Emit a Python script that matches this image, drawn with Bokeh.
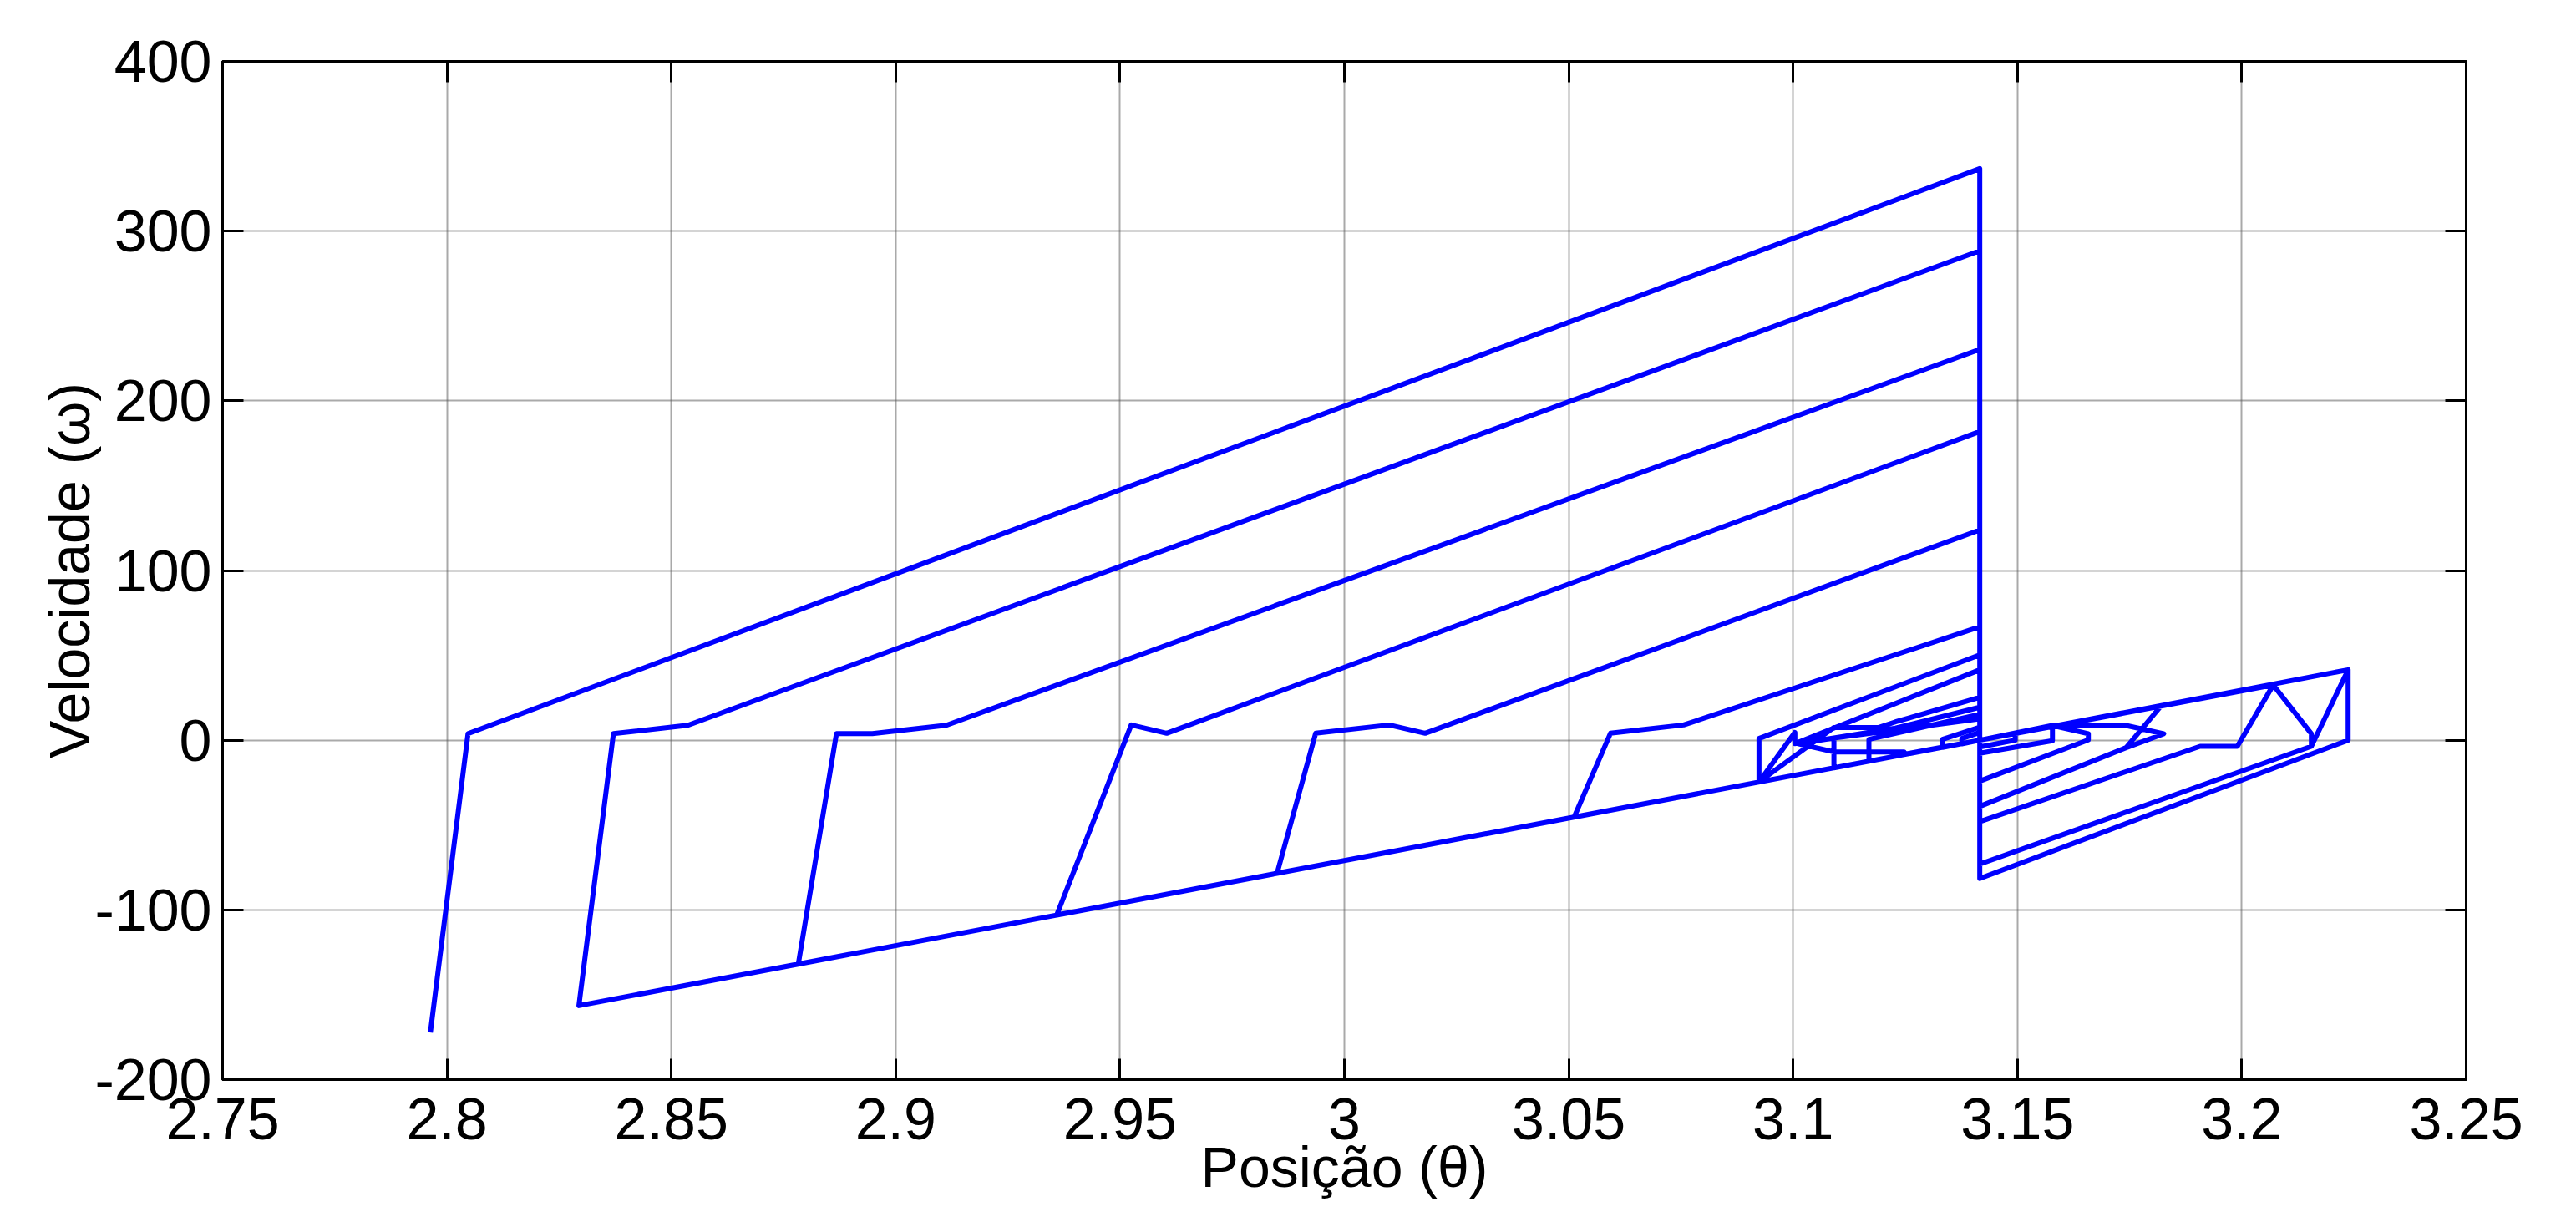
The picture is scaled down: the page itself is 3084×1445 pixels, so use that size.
from bokeh.plotting import figure
from bokeh.models import Range1d, FixedTicker, LinearAxis
from bokeh.embed import file_html
from bokeh.resources import INLINE

# ---- data: phase-plane trajectory (position theta, velocity omega) ----
# large bouncing cycles on the left of the impact position (pi)
theta_left = [2.7963, 2.8047, 3.1416,
              3.1416, 2.8294, 2.8371, 2.8537, 3.1416,
              3.1416, 2.8783, 2.8868, 2.8948, 2.9113, 3.1416,
              3.1416, 2.9359, 2.9525, 2.9604, 3.1416,
              3.1416, 2.9850, 2.9936, 3.0100, 3.0180, 3.1416,
              3.1416, 3.0512, 3.0593, 3.0756, 3.1416]
omega_left = [-172.3, 3.9, 336.8,
              0.0, -156.4, 3.9, 8.8, 288.4,
              0.0, -131.9, 3.9, 3.9, 8.8, 230.3,
              0.0, -103.0, 9.0, 4.1, 181.9,
              0.0, -78.4, 4.1, 9.0, 4.1, 123.9,
              0.0, -45.3, 4.1, 9.0, 66.8]

# small cycles close to pi (left side)
theta_small = [3.1416, 3.0924, 3.0924, 3.1416,
               3.1416, 3.0924, 3.1004, 3.1004, 3.1416,
               3.1416, 3.0924, 3.1091, 3.1191, 3.1228, 3.1416,
               3.1416, 3.1091, 3.1091, 3.1228, 3.1416,
               3.1416, 3.1169, 3.1169, 3.1416,
               3.1416, 3.1247, 3.1247, 3.1091, 3.1011, 3.1091, 3.1416,
               3.1416, 3.1333, 3.1333, 3.1416,
               3.1416, 3.1376, 3.1376, 3.1416]
omega_small = [0.0, -24.6, 1.0, 50.3,
               0.0, -24.6, 4.6, -2.0, 41.5,
               0.0, -24.6, 7.5, 7.5, 10.8, 25.2,
               0.0, -16.3, 1.3, 7.1, 19.4,
               0.0, -12.4, 0.5, 15.3,
               0.0, -8.3, -6.9, -6.9, -2.0, 1.3, 12.6,
               0.0, -4.2, 0.5, 7.7,
               0.0, -2.1, 1.0, 4.6]

# cycles on the right of pi
theta_right = [3.1416, 3.2237, 3.2237, 3.1416,
               3.1416, 3.2237, 3.2155, 3.1416,
               3.1416, 3.2070, 3.2155, 3.2155, 3.1416,
               3.1416, 3.2070, 3.1990, 3.1907, 3.1416,
               3.1416, 3.1820, 3.1742, 3.1416,
               3.1416, 3.1578, 3.1742, 3.1826, 3.1742, 3.1416,
               3.1416, 3.1578, 3.1658, 3.1658, 3.1416,
               3.1416, 3.1578, 3.1578, 3.1416,
               3.1416, 3.1495, 3.1495, 3.1416, 3.1416]
omega_right = [0.0, 41.5, 0.0, -81.5,
               0.0, 41.5, -3.6, -73.0,
               0.0, 32.5, 3.8, -3.6, -73.0,
               0.0, 32.5, -3.6, -3.6, -48.0,
               0.0, 20.2, -4.4, -39.0,
               0.0, 8.7, 8.7, 3.8, -4.4, -39.0,
               0.0, 8.7, 3.8, 0.2, -24.1,
               0.0, 8.7, -0.3, -7.7,
               0.0, 4.0, 0.0, -4.0, 0.0]

theta = theta_left + theta_small + theta_right
omega = omega_left + omega_small + omega_right

x_ticks = [2.75, 2.8, 2.85, 2.9, 2.95, 3.0, 3.05, 3.1, 3.15, 3.2, 3.25]
x_tick_labels = ["2.75", "2.8", "2.85", "2.9", "2.95", "3", "3.05", "3.1", "3.15", "3.2", "3.25"]
y_ticks = [-200, -100, 0, 100, 200, 300, 400]
y_tick_labels = ["-200", "-100", "0", "100", "200", "300", "400"]
x_title = "Posição (θ)"
y_title = "Velocidade (ω)"

FONT = "Liberation Sans"

W, H = 3076, 1441
p = figure(width=W, height=H,
           x_range=Range1d(2.75, 3.25), y_range=Range1d(-200, 400),
           output_backend="svg", toolbar_location=None,
           min_border_left=266, min_border_right=W - 2952,
           min_border_top=73, min_border_bottom=H - 1292)
p.background_fill_color = "white"
p.border_fill_color = "white"
p.outline_line_color = "black"
p.outline_line_width = 3

p.line(theta, omega, line_width=6, line_color="#0000FF", line_join="round")

# grid
for g, t in ((p.xgrid, x_ticks), (p.ygrid, y_ticks)):
    g.ticker = FixedTicker(ticks=t)
    g.grid_line_color = "#555555"
    g.grid_line_width = 2
    g.grid_line_dash = "1 1"

def style_axis(ax, ticks, labels, show):
    ax.ticker = FixedTicker(ticks=ticks)
    ax.major_label_overrides = {t: l for t, l in zip(ticks, labels)}
    ax.axis_line_color = "black"
    ax.axis_line_width = 3
    ax.major_tick_in = 25
    ax.major_tick_out = 0
    ax.major_tick_line_width = 3
    ax.major_tick_line_color = "black"
    ax.minor_tick_line_color = None
    ax.major_label_text_font = FONT
    if show:
        ax.major_label_text_color = "black"
        ax.major_label_text_font_size = "70px"
    else:
        ax.major_label_text_color = None
        ax.major_label_text_font_size = "1px"
        ax.major_label_standoff = 0

style_axis(p.xaxis[0], x_ticks, x_tick_labels, True)
style_axis(p.yaxis[0], y_ticks, y_tick_labels, True)
p.xaxis[0].major_label_standoff = 22
p.yaxis[0].major_label_standoff = 13

p.xaxis[0].axis_label = x_title
p.yaxis[0].axis_label = y_title
for ax in (p.xaxis[0], p.yaxis[0]):
    ax.axis_label_text_font = FONT
    ax.axis_label_text_font_size = "68px"
    ax.axis_label_text_font_style = "normal"
    ax.axis_label_text_color = "black"
p.xaxis[0].axis_label_standoff = -8
p.yaxis[0].axis_label_standoff = -11

top_ax = LinearAxis()
style_axis(top_ax, x_ticks, x_tick_labels, False)
p.add_layout(top_ax, "above")
right_ax = LinearAxis()
style_axis(right_ax, y_ticks, y_tick_labels, False)
p.add_layout(right_ax, "right")

open("out.html", "w").write(file_html(p, INLINE))
